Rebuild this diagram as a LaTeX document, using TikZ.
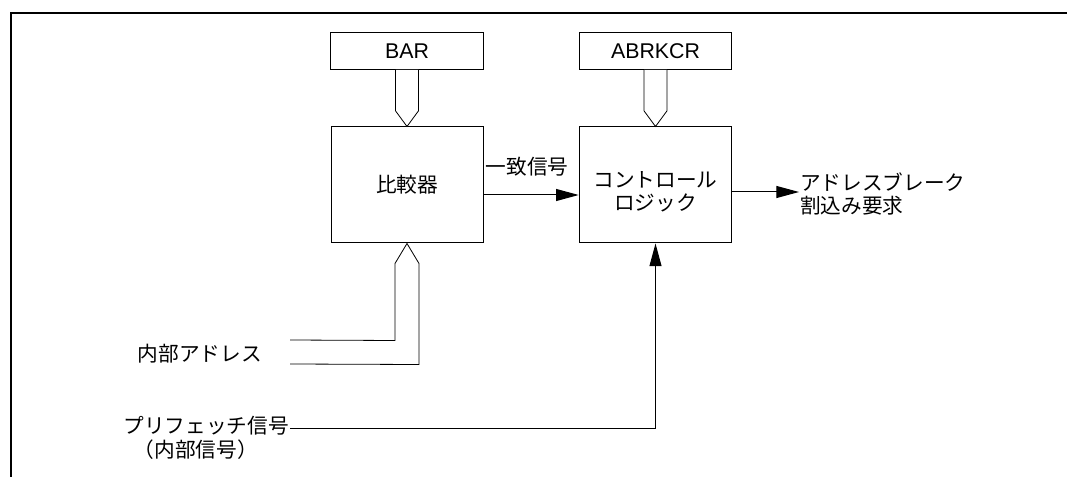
\documentclass[tikz,border=0pt]{standalone}
\usepackage{fontspec}
\setmainfont{Liberation Sans}
\newfontfamily\jp{Noto Sans CJK JP}
\usetikzlibrary{calc,arrows.meta}
\begin{document}
\begin{tikzpicture}[x=0.75pt,y=-0.75pt,
  box/.style={draw,line width=0.75pt,inner sep=0pt},
  lbl/.style={font=\fontsize{15.5}{17.5}\selectfont\jp,inner sep=0pt,align=left},
  conn/.style={line width=0.75pt},
  arr/.style={conn,-{Triangle[length=17pt,width=9pt]}},
  bus/.style={line width=0.6pt,fill=white}]
\useasboundingbox (0,0) rectangle (1067,477);
\draw[line width=1pt] (11,477) -- (11,13) -- (1067,13);
% boxes
\node[box,minimum width=114.5pt,minimum height=27.5pt,font=\fontsize{16}{18}\selectfont] (bar) at (407,51) {BAR};
\node[box,minimum width=114.5pt,minimum height=27.5pt,font=\fontsize{16}{18}\selectfont] (abr) at (655.5,51) {ABRKCR};
\node[box,minimum width=114pt,minimum height=87pt] (cmp) at (407,185) {};
\node[lbl] at (cmp.center) {比較器};
\node[box,minimum width=114.5pt,minimum height=87pt] (ctl) at (655.5,185) {};
\node[lbl,align=center] at ($(ctl.center)+(0,7)$) {コントロール\\ロジック};
% buses top
\draw[bus] ($(bar.south)+(-11.5,0)$) -- ++(0,41) -- (cmp.north) -- ($(bar.south)+(11.5,41)$) -- ($(bar.south)+(11.5,0)$);
\draw[bus] ($(abr.south)+(-11.5,0)$) -- ++(0,41) -- (ctl.north) -- ($(abr.south)+(11.5,41)$) -- ($(abr.south)+(11.5,0)$);
% bottom bus
\coordinate (ia1) at (290,340);
\coordinate (ia2) at (290,364);
\draw[bus,fill=none] (ia1) -- ($(cmp.south)+(-12,97)$) -- ($(cmp.south)+(-12,20)$) -- (cmp.south) -- ($(cmp.south)+(12,20)$) -- ($(cmp.south)+(12,121)$) -- (ia2);
\node[lbl,anchor=east] (ia) at (262,354) {内部アドレス};
% match signal
\draw[arr] (cmp.east |- 0,195) -- (ctl.west |- 0,195);
\node[lbl] (match) at (527,167) {一致信号};
% output
\coordinate (out) at (799,192);
\draw[arr] (ctl.east |- out) -- (out);
\node[lbl,anchor=west] (req) at (800,194) {アドレスブレーク\\割込み要求};
% prefetch
\node[lbl,anchor=east,align=center] (pf) at (289,438) {プリフェッチ信号\\（内部信号）\hphantom{信}};
\coordinate (pfe) at (290,428);
\draw[arr] (pfe) -- (ctl.south |- pfe) -- (ctl.south);
\end{tikzpicture}
\end{document}
